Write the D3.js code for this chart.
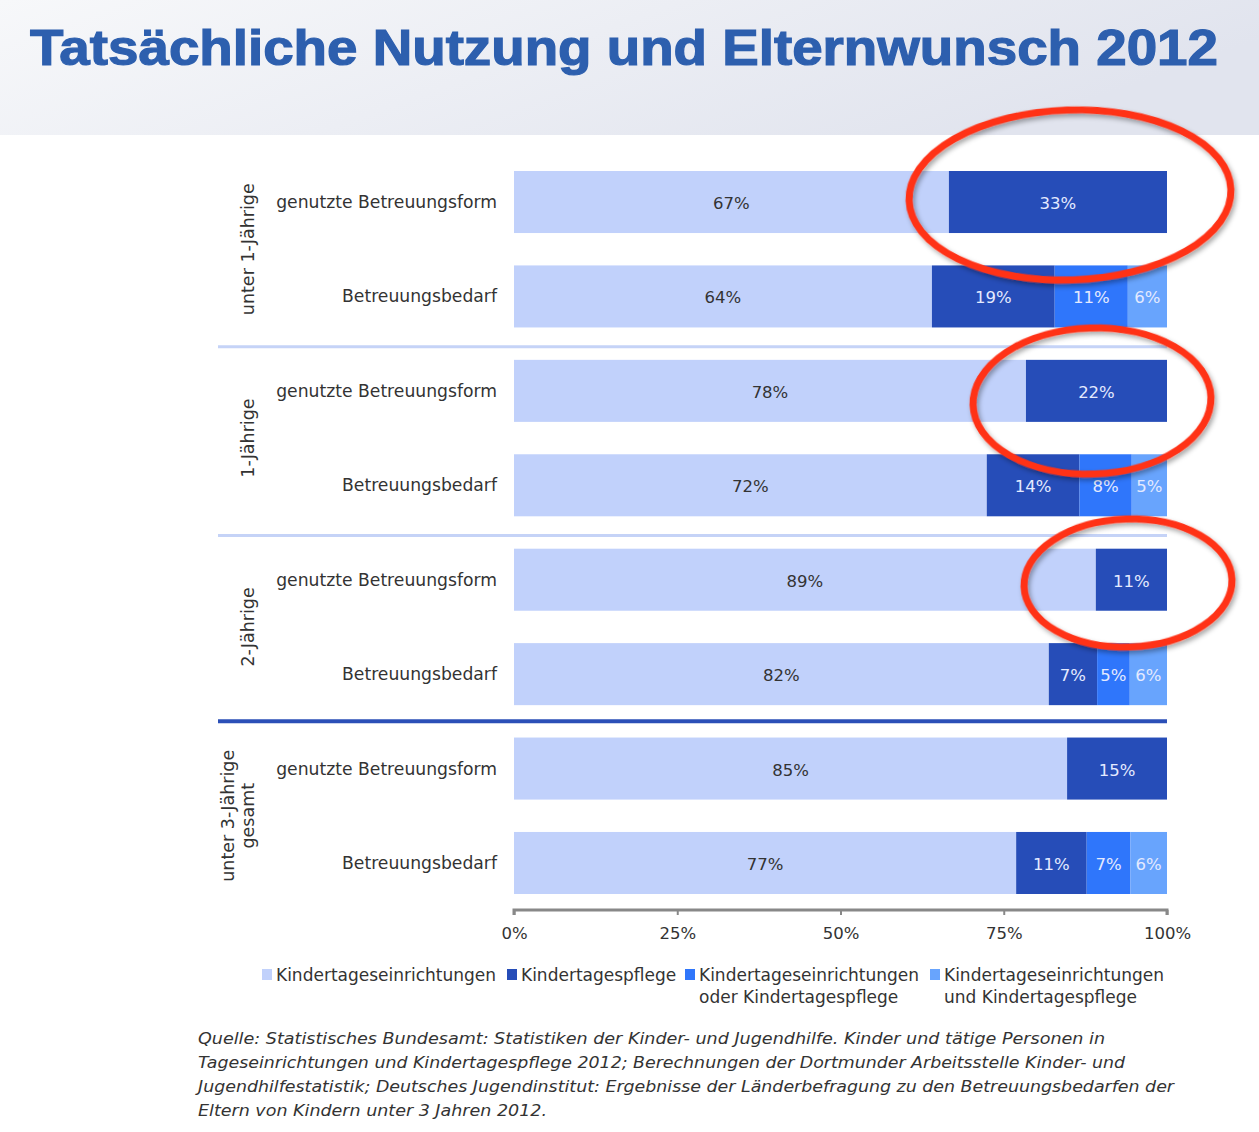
<!DOCTYPE html>
<html><head><meta charset="utf-8">
<script src="https://cdn.jsdelivr.net/npm/d3@7"></script>
<style>body{margin:0;background:#fff}svg{display:block}</style>
</head><body>
<svg id="c" width="1259" height="1132"></svg>
<script>
const title = "Tatsächliche Nutzung und Elternwunsch 2012";
const groups = [["unter 1-Jährige"], ["1-Jährige"], ["2-Jährige"], ["unter 3-Jährige", "gesamt"]];
const rowLabels = ["genutzte Betreuungsform", "Betreuungsbedarf"];
const seriesNames = ["Kindertageseinrichtungen", "Kindertagespflege", "Kindertageseinrichtungen oder Kindertagespflege", "Kindertageseinrichtungen und Kindertagespflege"];
const legendLines = [["Kindertageseinrichtungen"], ["Kindertagespflege"], ["Kindertageseinrichtungen", "oder Kindertagespflege"], ["Kindertageseinrichtungen", "und Kindertagespflege"]];
const kita      = [66.6, 64.0, 78.4, 72.4, 89.1, 81.9, 84.7, 76.9];
const pflege    = [33.4, 18.8, 21.6, 14.2, 10.9, 7.4, 15.3, 10.8];
const oder      = [0, 11.2, 0, 8.0, 0, 5.0, 0, 6.7];
const und       = [0, 6.0, 0, 5.4, 0, 5.7, 0, 5.6];
const ticks = [0, 25, 50, 75, 100];
const highlighted = [0, 2, 4];
const sourceLines = [
 "Quelle: Statistisches Bundesamt: Statistiken der Kinder- und Jugendhilfe. Kinder und tätige Personen in",
 "Tageseinrichtungen und Kindertagespflege 2012; Berechnungen der Dortmunder Arbeitsstelle Kinder- und",
 "Jugendhilfestatistik; Deutsches Jugendinstitut: Ergebnisse der Länderbefragung zu den Betreuungsbedarfen der",
 "Eltern von Kindern unter 3 Jahren 2012."
];
const sourceWidths = [907, 927, 976, 349];

const colors = ["#c1d1fb", "#264db8", "#2f76fb", "#68a4fd"];
const font = "'DejaVu Sans', Verdana, sans-serif";
const svg = d3.select("#c");

// header
const defs = svg.append("defs");
const lg = defs.append("linearGradient").attr("id","hg").attr("x1","0").attr("x2","1").attr("y1","0").attr("y2","0.3");
lg.append("stop").attr("offset","0").attr("stop-color","#f7f8fa");
lg.append("stop").attr("offset","1").attr("stop-color","#e1e4ee");
const sh = defs.append("filter").attr("id","sh").attr("x","-20%").attr("y","-20%").attr("width","140%").attr("height","140%");
sh.append("feDropShadow").attr("dx",2).attr("dy",3).attr("stdDeviation",2.5).attr("flood-color","#000").attr("flood-opacity",0.35);

svg.append("rect").attr("x",0).attr("y",0).attr("width",1259).attr("height",135).attr("fill","url(#hg)");
svg.append("text").attr("x",30).attr("y",65).attr("font-family","'Liberation Sans', Arial, sans-serif")
  .attr("font-weight","bold").attr("font-size",50).attr("fill","#2d5fae")
  .attr("stroke","#2d5fae").attr("stroke-width",1.2)
  .attr("textLength",1188).attr("lengthAdjust","spacingAndGlyphs").text(title);

// data
const rows = kita.map((k,i)=>({i, group: Math.floor(i/2), label: rowLabels[i%2], vals:[k, pflege[i], oder[i], und[i]]}));
const stack = d3.stack().keys([0,1,2,3]).value((d,k)=>d.vals[k]);
const series = stack(rows);

const x = d3.scaleLinear().domain([0,100]).range([514,1167]);
const y = d3.scaleBand().domain(d3.range(rows.length)).range([171,894]).paddingInner(0.343).paddingOuter(0);
const fmt = d3.format(".0f");

// separators
for (let g=1; g<groups.length; g++){
  const yy = (y(2*g-1)+y.bandwidth()+y(2*g))/2 + (g===3?0:3);
  svg.append("line").attr("x1",218).attr("x2",1167).attr("y1",yy).attr("y2",yy)
    .attr("stroke", g===3 ? "#2b4fb7" : "#c5d3f7").attr("stroke-width", g===3 ? 4 : 3);
}

// bars
series.forEach((s,k)=>{
  const g = svg.append("g");
  g.selectAll("rect").data(s.filter(d=>d[1]-d[0]>0)).join("rect")
    .attr("x",d=>x(d[0])).attr("width",d=>x(d[1])-x(d[0]))
    .attr("y",d=>y(d.data.i)).attr("height",y.bandwidth()).attr("fill",colors[k]);
  g.selectAll("text").data(s.filter(d=>d[1]-d[0]>0)).join("text")
    .attr("x",d=>(x(d[0])+x(d[1]))/2).attr("y",d=>y(d.data.i)+y.bandwidth()/2+7)
    .attr("text-anchor","middle").attr("font-family",font).attr("font-size",16.5)
    .attr("fill", k===0 ? "#333" : "#e4eaff").text(d=>fmt(d[1]-d[0])+"%");
});

// row labels
svg.selectAll("text.rl").data(rows).join("text").attr("class","rl")
  .attr("x",497).attr("y",d=>y(d.i)+y.bandwidth()/2+6).attr("text-anchor","end")
  .attr("font-family",font).attr("font-size",17.2).attr("fill","#333").text(d=>d.label);

// group labels
groups.forEach((lines,g)=>{
  const cy = (y(2*g)+y(2*g+1)+y.bandwidth())/2;
  const n = lines.length;
  lines.forEach((t,j)=>{
    const cx = 248 - (n-1-j)*20 + 6;
    svg.append("text").attr("transform",`translate(${cx},${cy}) rotate(-90)`)
      .attr("text-anchor","middle").attr("font-family",font).attr("font-size",17.5).attr("fill","#333").text(t);
  });
});

// axis
const ax = svg.append("g").attr("transform","translate(0,910)");
ax.call(d3.axisBottom(x).tickValues(ticks).tickSize(6).tickFormat(d=>d+"%"));
ax.select(".domain").attr("stroke","#888").attr("stroke-width",3).attr("d","M514,5V0H1167V5");
ax.selectAll(".tick line").attr("stroke","#888").attr("stroke-width",2).attr("y2",5);
ax.selectAll(".tick text").attr("font-family",font).attr("font-size",16.5).attr("fill","#333").attr("y",17);

// legend
const legX = [262, 507, 685, 930];
legendLines.forEach((lines,k)=>{
  svg.append("rect").attr("x",legX[k]).attr("y",969).attr("width",10).attr("height",11).attr("fill",colors[k]);
  lines.forEach((t,j)=>{
    svg.append("text").attr("x",legX[k]+14).attr("y",981+j*22).attr("font-family",font)
      .attr("font-size",17).attr("fill","#333").text(t);
  });
});

// source
sourceLines.forEach((t,j)=>{
  svg.append("text").attr("x",198).attr("y",1044+j*24).attr("font-family",font).attr("font-style","italic")
    .attr("font-size",16).attr("fill","#333").attr("textLength",sourceWidths[j]).attr("lengthAdjust","spacingAndGlyphs").text(t);
});

// highlight ellipses
const ell = [{cx:1070, cy:195, rx:161, ry:85, rot:-2}, {cx:1092, cy:401, rx:119, ry:73, rot:-2}, {cx:1128, cy:583, rx:104, ry:64, rot:-2}];
svg.selectAll("ellipse").data(ell).join("ellipse")
  .attr("transform",d=>`translate(${d.cx},${d.cy}) rotate(${d.rot})`)
  .attr("rx",d=>d.rx).attr("ry",d=>d.ry).attr("fill","none")
  .attr("stroke","#ff3218").attr("stroke-width",7).attr("filter","url(#sh)");
</script>
</body></html>
